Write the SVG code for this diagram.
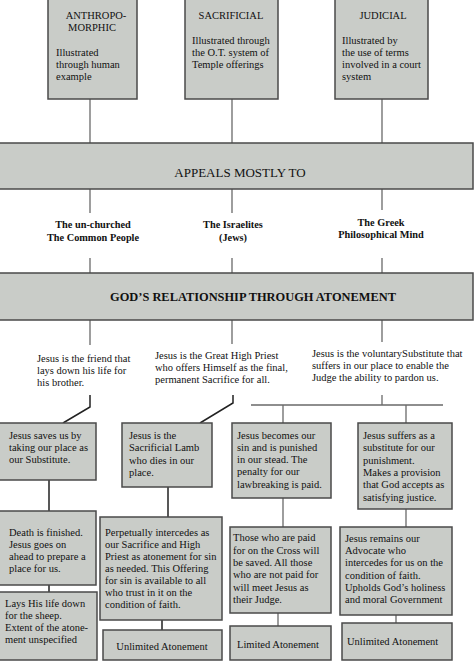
<svg xmlns="http://www.w3.org/2000/svg" width="474" height="661" viewBox="0 0 474 661">
<style>
.box{fill:#c9ccc8;stroke:#4a4a4a;stroke-width:1.5}
.bar{fill:#c9ccc8;stroke:#4a4a4a;stroke-width:1.5}
.t{font-family:"Liberation Serif","Times New Roman",serif;font-size:10.5px;fill:#111}
.m{text-anchor:middle}
.b{font-weight:bold;font-size:10.3px}
.up{stroke:#6a6a6a;stroke-width:1.3;fill:none}
.lo{stroke:#222;stroke-width:1.5;fill:none}
</style>
<rect width="474" height="661" fill="#fff"/>
<g id="connectors">
<path class="up" d="M90 99V143M232 99V143M382 99V143"/>
<path class="up" d="M90 189V213M232 189V213M382 189V210"/>
<path class="up" d="M90 258V273M232 258V273M382 258V273"/>
<path class="up" d="M90 320V345M232 320V344M382 320V342"/>
<path class="lo" d="M90 395V407L63 423M233 395V403L200 423"/>
<path class="up" d="M382 395V405M251 405H443M283 405V423M406 405V423"/>
<path class="lo" d="M49 480V511M49 585V592M168 487V517M162 620V630"/>
<path class="up" d="M283 498V527M278 613V626M406 509V527M396 615V623"/>
</g>
<g id="anthropomorphic">
<rect class="box" x="48" y="-5" width="89" height="104"/>
<text class="t m" x="96" y="19">ANTHROPO-</text>
<text class="t m" x="92" y="31">MORPHIC</text>
<text class="t" x="56" y="56">Illustrated</text>
<text class="t" x="56" y="68">through human</text>
<text class="t" x="56" y="80">example</text>
</g>
<g id="sacrificial">
<rect class="box" x="185" y="-5" width="93" height="104"/>
<text class="t m" x="231" y="19">SACRIFICIAL</text>
<text class="t" x="192" y="44">Illustrated through</text>
<text class="t" x="192" y="56">the O.T. system of</text>
<text class="t" x="192" y="68">Temple offerings</text>
</g>
<g id="judicial">
<rect class="box" x="335" y="-5" width="93" height="104"/>
<text class="t m" x="383" y="19">JUDICIAL</text>
<text class="t" x="342" y="44">Illustrated by</text>
<text class="t" x="342" y="56">the use of terms</text>
<text class="t" x="342" y="68">involved in a court</text>
<text class="t" x="342" y="80">system</text>
</g>
<g id="appeals">
<rect class="bar" x="-3" y="143" width="476" height="46"/>
<text class="t m" x="240" y="177" style="font-size:13px">APPEALS MOSTLY TO</text>
</g>
<g id="unchurched">
<text class="t b m" x="93" y="228">The un-churched</text>
<text class="t b m" x="93" y="241">The Common People</text>
</g>
<g id="israelites">
<text class="t b m" x="233" y="228">The Israelites</text>
<text class="t b m" x="233" y="241">(Jews)</text>
</g>
<g id="greek">
<text class="t b m" x="381" y="226">The Greek</text>
<text class="t b m" x="381" y="238">Philosophical Mind</text>
</g>
<g id="relationship">
<rect class="bar" x="-3" y="273" width="476" height="47"/>
<text class="t m" x="253" y="301" style="font-size:12.4px;font-weight:bold">GOD’S RELATIONSHIP THROUGH ATONEMENT</text>
</g>
<g id="friend">
<text class="t" x="37" y="362">Jesus is the friend that</text>
<text class="t" x="37" y="374">lays down his life for</text>
<text class="t" x="37" y="386">his brother.</text>
</g>
<g id="priest">
<text class="t" x="155" y="359">Jesus is the Great High Priest</text>
<text class="t" x="155" y="371">who offers Himself as the final,</text>
<text class="t" x="155" y="383">permanent Sacrifice for all.</text>
</g>
<g id="voluntary">
<text class="t" x="312" y="357">Jesus is the voluntarySubstitute that</text>
<text class="t" x="312" y="369">suffers in our place to enable the</text>
<text class="t" x="312" y="381">Judge the ability to pardon us.</text>
</g>
<g id="saves">
<rect class="box" x="-3" y="423" width="99" height="57"/>
<text class="t" x="9" y="439">Jesus saves us by</text>
<text class="t" x="9" y="451">taking our place as</text>
<text class="t" x="9" y="463">our Substitute.</text>
</g>
<g id="lamb">
<rect class="box" x="122" y="423" width="90" height="64"/>
<text class="t" x="129" y="439">Jesus is the</text>
<text class="t" x="129" y="451">Sacrificial Lamb</text>
<text class="t" x="129" y="464">who dies in our</text>
<text class="t" x="129" y="476">place.</text>
</g>
<g id="becomes-sin">
<rect class="box" x="232" y="423" width="99" height="75"/>
<text class="t" x="237" y="439">Jesus becomes our</text>
<text class="t" x="237" y="451">sin and is punished</text>
<text class="t" x="237" y="463">in our stead. The</text>
<text class="t" x="237" y="475">penalty for our</text>
<text class="t" x="237" y="488">lawbreaking is paid.</text>
</g>
<g id="suffers">
<rect class="box" x="358" y="423" width="94" height="86"/>
<text class="t" x="363" y="439">Jesus suffers as a</text>
<text class="t" x="363" y="451">substitute for our</text>
<text class="t" x="363" y="464">punishment.</text>
<text class="t" x="363" y="476">Makes a provision</text>
<text class="t" x="363" y="488">that God accepts as</text>
<text class="t" x="363" y="501">satisfying justice.</text>
</g>
<g id="death">
<rect class="box" x="-3" y="511" width="99" height="74"/>
<text class="t" x="9" y="536">Death is finished.</text>
<text class="t" x="9" y="548">Jesus goes on</text>
<text class="t" x="9" y="560">ahead to prepare a</text>
<text class="t" x="9" y="572">place for us.</text>
</g>
<g id="lays">
<rect class="box" x="-3" y="592" width="100" height="68"/>
<text class="t" x="5" y="607">Lays His life down</text>
<text class="t" x="5" y="619">for the sheep.</text>
<text class="t" x="5" y="631">Extent of the atone-</text>
<text class="t" x="5" y="643">ment unspecified</text>
</g>
<g id="intercedes">
<rect class="box" x="100" y="517" width="122" height="103"/>
<text class="t" x="105" y="536">Perpetually intercedes as</text>
<text class="t" x="105" y="548">our Sacrifice and High</text>
<text class="t" x="105" y="560">Priest as atonement for sin</text>
<text class="t" x="105" y="572">as needed. This Offering</text>
<text class="t" x="105" y="584">for sin is available to all</text>
<text class="t" x="105" y="596">who trust in it on the</text>
<text class="t" x="105" y="608">condition of faith.</text>
</g>
<g id="unlimited-1">
<rect class="box" x="103" y="630" width="119" height="30"/>
<text class="t m" x="162" y="650">Unlimited Atonement</text>
</g>
<g id="paid-for">
<rect class="box" x="230" y="527" width="101" height="86"/>
<text class="t" x="233" y="541">Those who are paid</text>
<text class="t" x="233" y="554">for on the Cross will</text>
<text class="t" x="233" y="566">be saved. All those</text>
<text class="t" x="233" y="578">who are not paid for</text>
<text class="t" x="233" y="591">will meet Jesus as</text>
<text class="t" x="233" y="603">their Judge.</text>
</g>
<g id="limited">
<rect class="box" x="230" y="626" width="101" height="34"/>
<text class="t m" x="278" y="648">Limited Atonement</text>
</g>
<g id="advocate">
<rect class="box" x="340" y="527" width="112" height="88"/>
<text class="t" x="345" y="542">Jesus remains our</text>
<text class="t" x="345" y="554">Advocate who</text>
<text class="t" x="345" y="566">intercedes for us on the</text>
<text class="t" x="345" y="579">condition of faith.</text>
<text class="t" x="345" y="591">Upholds God’s holiness</text>
<text class="t" x="345" y="603">and moral Government</text>
</g>
<g id="unlimited-2">
<rect class="box" x="342" y="623" width="110" height="37"/>
<text class="t" x="347" y="645">Unlimited Atonement</text>
</g>
</svg>
